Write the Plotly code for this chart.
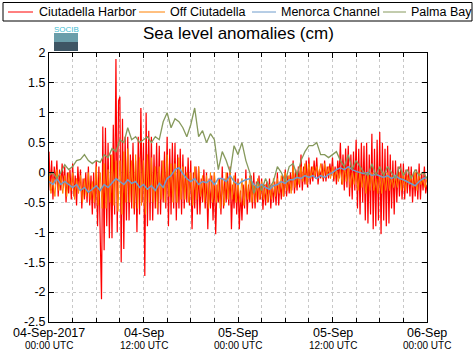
import pandas as pd
import plotly.graph_objects as go

START = "2017-09-04 00:00"
END = "2017-09-06 00:00"

series_names = ["Ciutadella Harbor", "Off Ciutadella", "Menorca Channel", "Palma Bay"]
series_colors = ["#ff0000", "#ff8000", "#6f9ccc", "#86995c"]

# Ciutadella Harbor: 10-min samples (one row per hour)
harbor = [
    0.35, -0.3, 0.2, -0.45, 0.1, -0.2,
    0.2, -0.4, 0.05, -0.3, 0.15, -0.25,
    0.1, -0.5, 0.0, -0.35, 0.05, -0.45,
    0.15, -0.4, -0.05, -0.55, 0.1, -0.3,
    0.05, -0.6, -0.1, -0.45, 0.0, -0.5,
    0.1, -0.55, -0.05, -0.7, 0.0, -0.6,
    0.2, -0.9, 0.1, -1.2, -2.12, 0.77,
    -1.3, 0.75, -0.9, 0.5, -1.1, 0.3,
    -1.1, 0.8, -0.7, 1.9, -1.0, 1.2,
    1.27, -1.5, 0.9, -1.28, 0.6, -0.8,
    0.6, -0.8, 0.3, -0.6, 0.5, -0.7,
    0.2, -1.0, 0.6, -0.7, 1.08, -0.5,
    0.5, -1.73, 1.0, -0.9, 0.7, -0.8,
    0.6, -0.8, 0.3, -0.6, 0.5, -0.7,
    0.45, -0.7, 0.2, -0.5, 0.35, -0.6,
    0.6, -0.9, 0.4, -0.7, 0.5, -0.6,
    0.5, -0.8, 0.3, -0.6, 0.4, -0.7,
    0.3, -0.6, 0.1, -0.5, 0.25, -0.55,
    0.2, -0.95, 0.0, -0.6, 0.1, -0.7,
    0.1, -0.7, -0.1, -0.5, 0.05, -0.6,
    0.0, -0.95, -0.1, -0.6, -0.05, -0.8,
    0.0, -1.03, -0.2, -0.5, -0.1, -0.7,
    0.1, -0.6, -0.1, -0.5, 0.0, -0.55,
    0.1, -0.95, -0.2, -0.6, 0.0, -0.7,
    -0.1, -0.95, -0.3, -0.8, -0.2, -0.6,
    0.05, -0.7, -0.2, -0.5, -0.05, -0.6,
    0.0, -0.6, -0.15, -0.5, -0.05, -0.45,
    -0.1, -0.62, -0.2, -0.55, -0.15, -0.5,
    -0.1, -0.6, -0.2, -0.5, -0.15, -0.55,
    0.0, -0.55, -0.15, -0.45, -0.05, -0.4,
    0.05, -0.4, -0.05, -0.35, 0.0, -0.3,
    0.2, -0.35, 0.05, -0.3, 0.1, -0.25,
    0.3, -0.3, 0.1, -0.2, 0.2, -0.25,
    0.25, -0.2, 0.1, -0.15, 0.2, -0.1,
    0.25, -0.2, 0.05, -0.1, 0.15, -0.15,
    0.2, -0.15, 0.1, -0.1, 0.15, -0.05,
    0.25, -0.15, 0.1, -0.2, 0.2, -0.1,
    0.5, -0.2, 0.3, -0.3, 0.4, -0.25,
    0.45, -0.4, 0.3, -0.45, 0.35, -0.3,
    0.55, -0.6, 0.4, -0.7, 0.5, -0.5,
    0.45, -0.8, 0.5, -0.85, 0.3, -0.7,
    0.65, -0.95, 0.4, -0.9, 0.55, -0.8,
    0.68, -1.03, 0.5, -0.8, 0.4, -0.9,
    0.45, -0.85, 0.3, -0.6, 0.2, -0.7,
    0.2, -0.5, 0.1, -0.4, 0.15, -0.45,
    0.15, -0.45, 0.05, -0.35, 0.1, -0.4,
    0.1, -0.5, 0.0, -0.4, 0.05, -0.45,
    0.15, -0.45, 0.0, -0.3, 0.1, -0.35,
    -0.2,
]

# Off Ciutadella: 15-min samples (one row per hour)
offshore = [
    0.0, -0.35, -0.1, -0.4,
    0.05, -0.3, -0.05, -0.35,
    -0.05, -0.4, 0.0, -0.3,
    0.0, -0.45, -0.1, -0.35,
    -0.05, -0.5, -0.1, -0.4,
    0.0, -0.45, -0.15, -0.5,
    0.1, -0.55, 0.0, -0.6,
    0.15, -0.6, 0.05, -0.5,
    0.3, -0.55, 0.2, -0.65,
    0.2, -0.7, 0.35, -0.5,
    0.4, -0.5, 0.2, -0.6,
    0.3, -0.6, 0.25, -0.55,
    0.2, -0.7, 0.3, -0.5,
    0.25, -0.5, 0.1, -0.6,
    0.1, -0.45, 0.2, -0.5,
    0.3, -0.4, 0.15, -0.5,
    0.15, -0.5, 0.25, -0.45,
    0.1, -0.45, 0.0, -0.5,
    0.0, -0.55, 0.1, -0.45,
    0.1, -0.4, -0.05, -0.5,
    -0.05, -0.6, 0.0, -0.5,
    0.0, -0.5, -0.1, -0.6,
    -0.1, -0.55, 0.0, -0.45,
    0.05, -0.45, -0.05, -0.5,
    -0.15, -0.5, -0.1, -0.55,
    -0.1, -0.45, -0.05, -0.5,
    -0.2, -0.5, -0.1, -0.45,
    -0.15, -0.45, -0.2, -0.5,
    -0.2, -0.45, -0.1, -0.4,
    -0.1, -0.35, -0.05, -0.4,
    0.0, -0.3, -0.05, -0.35,
    0.1, -0.25, 0.0, -0.2,
    0.1, -0.15, 0.15, -0.2,
    0.15, -0.1, 0.1, -0.05,
    0.1, -0.05, 0.15, -0.1,
    0.15, -0.05, 0.1, -0.1,
    0.1, -0.1, 0.05, -0.15,
    0.05, -0.2, 0.1, -0.15,
    0.1, -0.25, 0.0, -0.2,
    0.0, -0.3, 0.05, -0.25,
    -0.05, -0.35, 0.0, -0.3,
    0.0, -0.3, -0.1, -0.35,
    -0.05, -0.35, 0.0, -0.3,
    0.0, -0.3, -0.05, -0.25,
    -0.05, -0.25, 0.0, -0.3,
    0.0, -0.3, -0.05, -0.2,
    -0.05, -0.25, 0.0, -0.3,
    0.0, -0.2, -0.1, -0.25,
    -0.1,
]

# Menorca Channel: 30-min samples
channel = [
    -0.15, -0.2, -0.1, -0.2, -0.15, -0.2, -0.25, -0.2, -0.3, -0.25,
    -0.33, -0.28, -0.22, -0.3, -0.2, -0.25, -0.17, -0.1, -0.15, -0.2,
    -0.12, -0.18, -0.15, -0.25, -0.2, -0.28, -0.22, -0.3, -0.18, -0.25,
    -0.1, -0.05, 0.05, 0.08, -0.02, -0.1, -0.15, -0.1, -0.2, -0.15,
    -0.17, -0.12, -0.2, -0.1, -0.1, -0.15, -0.05, -0.15, -0.2, -0.15,
    -0.12, -0.1, -0.2, -0.25, -0.2, -0.25, -0.28, -0.22, -0.2, -0.15,
    -0.18, -0.12, -0.12, -0.08, -0.1, -0.05, -0.08, -0.05, -0.1, -0.05,
    -0.08, -0.03, 0.0, 0.05, 0.08, 0.05, 0.1, 0.05, 0.02, 0.0,
    -0.02, 0.0, -0.05, -0.03, -0.05, -0.08, -0.05, -0.1, -0.05, -0.1,
    -0.12, -0.15, -0.18, -0.22, -0.15, -0.1, -0.08,
]

# Palma Bay: 30-min samples
palma = [
    -0.05, 0.0, -0.1, 0.0, 0.13, 0.05, 0.1, 0.2, 0.22, 0.3,
    0.2, 0.15, 0.2, 0.17, 0.3, 0.25, 0.4, 0.35, 0.55, 0.5,
    0.75, 0.55, 0.6, 0.5, 0.55, 0.6, 0.5, 0.6, 0.55, 0.85,
    1.0, 0.75, 0.9, 0.85, 0.75, 0.6, 0.8, 1.08, 0.6, 0.7,
    0.5, 0.65, 0.55, 0.05, 0.35, 0.2, 0.0, 0.45, 0.3, 0.5,
    0.2, 0.0, -0.35, -0.15, -0.3, -0.1, -0.25, -0.15, 0.1, 0.0,
    -0.15, 0.1, 0.15, -0.05, 0.2, 0.35, 0.45, 0.45, 0.5, 0.3,
    0.3, 0.25, 0.3, 0.35, 0.2, 0.1, 0.3, 0.05, 0.2, 0.1,
    0.0, -0.05, 0.15, -0.05, 0.1, -0.05, 0.1, 0.0, -0.1, 0.1,
    -0.05, 0.05, -0.1, 0.05, -0.05, 0.0, -0.1,
]

major_ticks = ["2017-09-04 00:00", "2017-09-04 12:00", "2017-09-05 00:00",
               "2017-09-05 12:00", "2017-09-06 00:00"]
major_main = ["04-Sep-2017", "04-Sep", "05-Sep", "05-Sep", "06-Sep"]
major_sub = ["00:00 UTC", "12:00 UTC", "00:00 UTC", "12:00 UTC", "00:00 UTC"]
y_ticks = [2, 1.5, 1, 0.5, 0, -0.5, -1, -1.5, -2, -2.5]

FONT = "Liberation Sans, Arial, sans-serif"
W, H = 476, 359
L, R, T, B = 49, 427, 53, 322


def px_x(p):
    return (p - L) / (R - L)


def px_y(p):
    return (B - p) / (B - T)


fig = go.Figure()
widths = [1.2, 1.0, 1.5, 1.3]
for name, color, vals, lw in zip(series_names, series_colors,
                                 [harbor, offshore, channel, palma], widths):
    t = pd.date_range(START, END, periods=len(vals))
    fig.add_trace(go.Scatter(x=t, y=vals, mode="lines", name=name,
                             line=dict(color=color, width=lw), showlegend=False))

fig.update_layout(
    width=W, height=H,
    margin=dict(l=L, r=W - R, t=T, b=H - B, autoexpand=False),
    paper_bgcolor="white", plot_bgcolor="white",
    font=dict(family=FONT, color="black", size=13),
    showlegend=False,
)

fig.update_xaxes(
    type="date", range=[START, END],
    tickvals=major_ticks, showticklabels=False,
    ticks="inside", ticklen=5, tickcolor="black",
    showline=True, linecolor="black", linewidth=1, mirror="ticks",
    minor=dict(dtick=3 * 3600 * 1000, ticks="inside", ticklen=4, tickcolor="black",
               showgrid=True, gridcolor="#c8c8c8", griddash="dot", gridwidth=1),
    showgrid=True, gridcolor="#c8c8c8", griddash="dot", gridwidth=1,
    zeroline=False,
)
fig.update_yaxes(
    range=[-2.5, 2], tickvals=y_ticks, ticktext=[str(v) for v in y_ticks],
    tickfont=dict(size=12.5, family=FONT),
    ticks="inside", ticklen=5, tickcolor="black",
    showline=True, linecolor="black", linewidth=1, mirror="ticks",
    showgrid=True, gridcolor="#c8c8c8", griddash="dot", gridwidth=1,
    zeroline=False,
)

# x tick labels (two lines, different sizes)
for tv, a, b in zip(major_ticks, major_main, major_sub):
    fig.add_annotation(x=tv, xref="x", y=px_y(333), yref="paper", text=a,
                       showarrow=False, xanchor="center", yanchor="middle",
                       borderpad=0,
                       font=dict(size=12.5, family=FONT, color="black"))
    fig.add_annotation(x=tv, xref="x", y=px_y(345.5), yref="paper", text=b,
                       showarrow=False, xanchor="center", yanchor="middle",
                       borderpad=0,
                       font=dict(size=10, family=FONT, color="black"))

# title
fig.add_annotation(text="Sea level anomalies (cm)", xref="paper", yref="paper",
                   x=0.5, y=px_y(33), showarrow=False, xanchor="center", yanchor="middle",
                   font=dict(size=17, family=FONT, color="black"))

# legend box
fig.add_shape(type="rect", xref="paper", yref="paper",
              x0=px_x(3), x1=px_x(472), y0=px_y(21), y1=px_y(2.5),
              line=dict(color="black", width=1), fillcolor="white", layer="above")
legend_line_x = [(8, 33), (139, 165), (252, 276), (383, 406)]
legend_text_x = [37, 168, 279, 409]
for name, color, (x0, x1), tx in zip(series_names, series_colors, legend_line_x, legend_text_x):
    fig.add_shape(type="line", xref="paper", yref="paper",
                  x0=px_x(x0), x1=px_x(x1), y0=px_y(12), y1=px_y(12),
                  line=dict(color=color, width=1), layer="above")
    fig.add_annotation(text=name, xref="paper", yref="paper", x=px_x(tx), y=px_y(12),
                       showarrow=False, xanchor="left", yanchor="middle",
                       font=dict(size=12.5, family=FONT, color="black"))

# SOCIB logo
fig.add_shape(type="rect", xref="paper", yref="paper",
              x0=px_x(54), x1=px_x(78), y0=px_y(42), y1=px_y(33),
              fillcolor="#6a9eaa", line=dict(width=0), layer="above")
fig.add_shape(type="rect", xref="paper", yref="paper",
              x0=px_x(54), x1=px_x(78), y0=px_y(51), y1=px_y(42),
              fillcolor="#3e5564", line=dict(width=0), layer="above")
fig.add_annotation(text="SOCIB", xref="paper", yref="paper",
                   x=px_x(66), y=px_y(29.5), showarrow=False,
                   font=dict(size=8, color="#3fbcd0", family=FONT),
                   xanchor="center", yanchor="middle")

fig.write_html("out.html",
               config={"displayModeBar": False},
               post_script="document.body.style.margin='0';document.body.style.padding='0';")
